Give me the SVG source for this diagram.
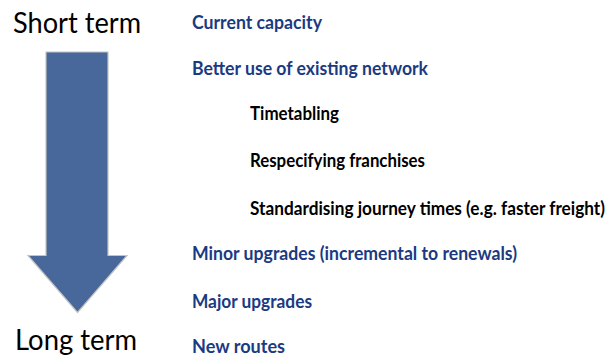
<svg xmlns="http://www.w3.org/2000/svg" width="611" height="358" viewBox="0 0 611 358">
  <style>
    text { font-family: "Lato", "Open Sans", "Liberation Sans", sans-serif; }
    .term { font-size: 28px; fill: #000000; }
    .main { font-size: 18.5px; font-weight: 700; fill: #1A3A82; }
    .sub { font-size: 18.5px; font-weight: 700; fill: #000000; }
    .arrow { fill: #48679A; stroke: #C4C4C4; stroke-width: 1.2; stroke-linejoin: miter; }
  </style>
  <rect width="611" height="358" fill="#FFFFFF"/>

  <!-- time axis: short term at the top, long term at the bottom -->
  <g id="axis">
    <path class="arrow" d="M46,52 L108,52 L108,255.5 L127,255.5 L77.5,312.5 L28,255.5 L46,255.5 Z"/>
  </g>
  <g id="short-term">
    <text class="term" x="13" y="33" textLength="128" lengthAdjust="spacingAndGlyphs">Short term</text>
  </g>
  <g id="long-term">
    <text class="term" x="15" y="350" textLength="122" lengthAdjust="spacingAndGlyphs">Long term</text>
  </g>

  <!-- options, ordered by time horizon -->
  <g id="current-capacity">
    <text class="main" x="192" y="29" textLength="130" lengthAdjust="spacingAndGlyphs">Current capacity</text>
  </g>
  <g id="better-use">
    <text class="main" x="192" y="75" textLength="236" lengthAdjust="spacingAndGlyphs">Better use of existing network</text>
  </g>
  <g id="timetabling">
    <text class="sub" x="250" y="120" textLength="89" lengthAdjust="spacingAndGlyphs">Timetabling</text>
  </g>
  <g id="franchises">
    <text class="sub" x="250" y="167" textLength="175" lengthAdjust="spacingAndGlyphs">Respecifying franchises</text>
  </g>
  <g id="journey-times">
    <text class="sub" x="250" y="215" textLength="355" lengthAdjust="spacingAndGlyphs">Standardising journey times (e.g. faster freight)</text>
  </g>
  <g id="minor-upgrades">
    <text class="main" x="192" y="260" textLength="325" lengthAdjust="spacingAndGlyphs">Minor upgrades (incremental to renewals)</text>
  </g>
  <g id="major-upgrades">
    <text class="main" x="192" y="307.5" textLength="120" lengthAdjust="spacingAndGlyphs">Major upgrades</text>
  </g>
  <g id="new-routes">
    <text class="main" x="192" y="353" textLength="93" lengthAdjust="spacingAndGlyphs">New routes</text>
  </g>

  <g id="connectors"/>
</svg>
